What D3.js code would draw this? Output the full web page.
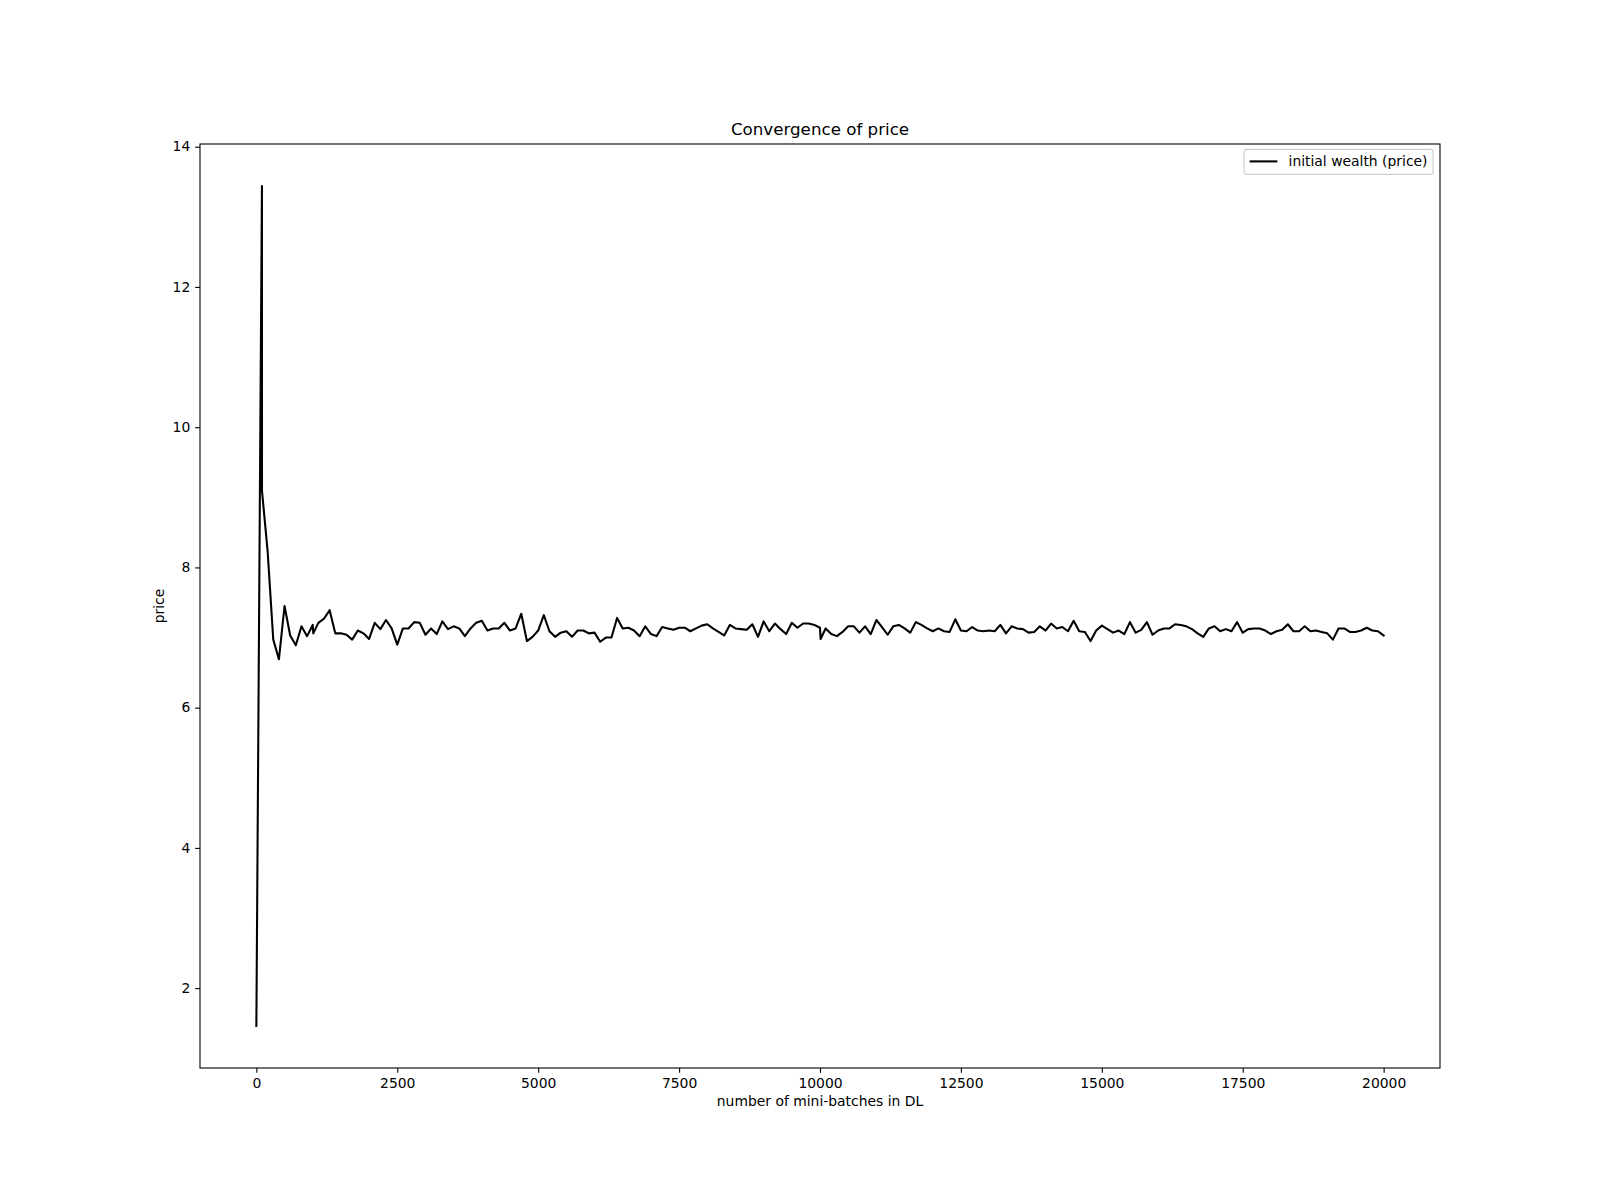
<!DOCTYPE html>
<html><head><meta charset="utf-8">
<script src="https://cdn.jsdelivr.net/npm/d3@7"></script>
<style>body{margin:0;background:#fff}svg{display:block}text{font-family:"DejaVu Sans",sans-serif;fill:#000}</style>
</head><body>
<script>
const steps = [0, 99, 100, 200, 300, 400, 500, 600, 700, 800, 900, 1000, 1010,
  1100,1200,1300,1400,1500,1600,1700,1800,1900,2000,2100,2200,2300,2400,2500,2600,2700,2800,2900,
  3000,3100,3200,3300,3400,3500,3600,3700,3800,3900,4000,4100,4200,4300,4400,4500,4600,4700,4800,4900,
  5000,5100,5200,5300,5400,5500,5600,5700,5800,5900,6000,6100,6200,6300,6400,6500,6600,6700,6800,6900,
  7000,7100,7200,7300,7400,7500,7600,7700,7800,7900,8000,8100,8200,8300,8400,8500,8600,8700,8800,8900,
  9000,9100,9200,9300,9400,9500,9600,9700,9800,9900,10000,10010,
  10100,10200,10300,10400,10500,10600,10700,10800,10900,11000,11100,11200,11300,11400,11500,11600,11700,11800,11900,
  12000,12100,12200,12300,12400,12500,12600,12700,12800,12900,13000,13100,13200,13300,13400,13500,13600,13700,13800,13900,
  14000,14100,14200,14300,14400,14500,14600,14700,14800,14900,15000,15100,15200,15300,15400,15500,15600,15700,15800,15900,
  16000,16100,16200,16300,16400,16500,16600,16700,16800,16900,17000,17100,17200,17300,17400,17500,17600,17700,17800,17900,
  18000,18100,18200,18300,18400,18500,18600,18700,18800,18900,19000,19100,19200,19300,19400,19500,19600,19700,19800,19900,20000];
const price = [1.46, 13.44, 9.09, 8.23, 6.97, 6.69, 7.45, 7.03, 6.89, 7.16, 7.02, 7.18, 7.06,
  7.21,7.27,7.39,7.06,7.06,7.04,6.97,7.10,7.06,6.98,7.21,7.12,7.25,7.13,6.90,7.13,7.13,7.22,7.21,
  7.04,7.13,7.05,7.23,7.12,7.16,7.13,7.02,7.13,7.21,7.24,7.10,7.13,7.13,7.21,7.10,7.13,7.34,6.95,7.01,
  7.10,7.32,7.09,7.01,7.07,7.09,7.01,7.10,7.10,7.06,7.07,6.94,7.00,7.00,7.28,7.13,7.14,7.10,7.02,7.16,
  7.05,7.02,7.15,7.13,7.11,7.14,7.14,7.09,7.13,7.17,7.19,7.13,7.08,7.03,7.18,7.13,7.12,7.11,7.19,7.01,
  7.23,7.09,7.20,7.12,7.05,7.21,7.14,7.20,7.20,7.18,7.14,6.98,
  7.13,7.05,7.02,7.08,7.16,7.16,7.07,7.16,7.05,7.25,7.15,7.04,7.16,7.18,7.13,7.07,7.22,7.18,7.13,
  7.09,7.13,7.09,7.08,7.26,7.10,7.09,7.15,7.10,7.09,7.10,7.09,7.18,7.06,7.16,7.13,7.12,7.07,7.08,7.16,
  7.10,7.20,7.13,7.15,7.09,7.24,7.09,7.08,6.95,7.10,7.17,7.12,7.07,7.10,7.05,7.22,7.07,7.11,7.22,7.04,
  7.10,7.13,7.13,7.19,7.18,7.16,7.12,7.06,7.01,7.13,7.16,7.09,7.12,7.09,7.22,7.07,7.12,7.13,7.13,7.10,
  7.05,7.09,7.11,7.19,7.09,7.09,7.16,7.09,7.10,7.08,7.06,6.97,7.13,7.13,7.08,7.08,7.10,7.14,7.10,7.09,7.03];
const xTicks = [0,2500,5000,7500,10000,12500,15000,17500,20000];
const yTicks = [2,4,6,8,10,12,14];
const titleText = "Convergence of price";
const xLabel = "number of mini-batches in DL";
const yLabel = "price";
const seriesName = "initial wealth (price)";

const W=1600,H=1200;
const L=200,R=1440,T=144,B=1068;
const svg=d3.select("body").append("svg").attr("width",W).attr("height",H);
const xmin=d3.min(steps),xmax=d3.max(steps),ymin=d3.min(price),ymax=d3.max(price);
const xm=(xmax-xmin)*0.05, ym=(ymax-ymin)*0.05;
const x=d3.scaleLinear().domain([xmin-xm,xmax+xm]).range([L,R]);
const y=d3.scaleLinear().domain([ymin-ym,ymax+ym]).range([B,T]);
const fs=13.9;

const line=d3.line().x((d,i)=>x(steps[i])).y(d=>y(d));
svg.append("path").datum(price).attr("d",line).attr("fill","none").attr("stroke","#000")
  .attr("stroke-width",2.08).attr("stroke-linejoin","round").attr("stroke-linecap","square");

const xa=svg.append("g").attr("transform",`translate(0,${B})`)
  .call(d3.axisBottom(x).tickValues(xTicks).tickFormat(d3.format("d")).tickSizeOuter(0).tickSize(4.86).tickPadding(4.86));
const ya=svg.append("g").attr("transform",`translate(${L},0)`)
  .call(d3.axisLeft(y).tickValues(yTicks).tickFormat(d3.format("d")).tickSizeOuter(0).tickSize(4.86).tickPadding(4.86));
[xa,ya].forEach(a=>{a.select(".domain").remove();a.selectAll("line").attr("stroke","#000").attr("stroke-width",1.1);
  a.selectAll("text").style("font-family","DejaVu Sans").style("font-size",fs+"px");});
ya.selectAll("text").attr("dy","0.30em");

svg.append("rect").attr("x",L).attr("y",T).attr("width",R-L).attr("height",B-T)
  .attr("fill","none").attr("stroke","#000").attr("stroke-width",1.1);

svg.append("text").attr("x",(L+R)/2).attr("y",T-8.8).attr("text-anchor","middle")
  .style("font-size","16.7px").text(titleText);
svg.append("text").attr("x",(L+R)/2).attr("y",B+4.86+4.86+fs+4+fs*0.78).attr("text-anchor","middle")
  .style("font-size",fs+"px").text(xLabel);
svg.append("text").attr("transform",`translate(${L-4.86-4.86-18-4-4},${(T+B)/2}) rotate(-90)`).attr("text-anchor","middle")
  .style("font-size",fs+"px").text(yLabel);

// legend
const lg=svg.append("g");
const lt=lg.append("text").style("font-size",fs+"px").text(seriesName);
const tw=lt.node().getComputedTextLength();
const bw=tw+27.8+11.1+5.6*2, bh=25;
const bx=R-6.9-bw, by=T+5.4;
lg.insert("rect","text").attr("x",bx).attr("y",by).attr("width",bw).attr("height",bh).attr("rx",2.8)
  .attr("fill","#fff").attr("fill-opacity",0.8).attr("stroke","#cccccc").attr("stroke-width",1.1);
lg.append("line").attr("x1",bx+5.6).attr("x2",bx+5.6+27.8).attr("y1",by+bh/2-0.5).attr("y2",by+bh/2-0.5)
  .attr("stroke","#000").attr("stroke-width",2.08);
lt.attr("x",bx+5.6+27.8+11.1).attr("y",by+bh/2+fs*0.3);
</script>
</body></html>
